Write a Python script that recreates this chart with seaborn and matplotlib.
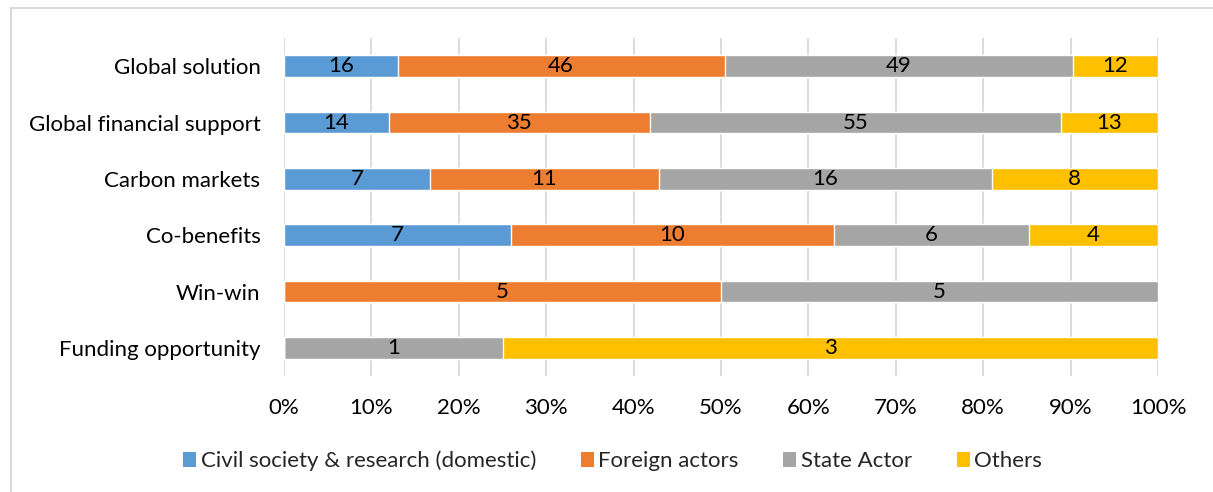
import seaborn as sns
import matplotlib.pyplot as plt
import pandas as pd
from matplotlib.lines import Line2D
from matplotlib.patches import Patch
from matplotlib.ticker import PercentFormatter

categories = ["Global solution", "Global financial support", "Carbon markets",
              "Co-benefits", "Win-win", "Funding opportunity"]
series = ["Civil society & research (domestic)", "Foreign actors", "State Actor", "Others"]
civil = [16, 14, 7, 7, 0, 0]
foreign = [46, 35, 11, 10, 5, 0]
state = [49, 55, 16, 6, 5, 1]
others = [12, 13, 8, 4, 0, 3]
colors = ["#5B9BD5", "#ED7D31", "#A5A5A5", "#FFC000"]

df = pd.DataFrame({"category": categories, series[0]: civil, series[1]: foreign,
                   series[2]: state, series[3]: others})
counts = df[series]
pct = counts.div(counts.sum(axis=1), axis=0)
cum = pct.cumsum(axis=1)

sns.set_style("white")
plt.rcParams["font.family"] = ["Lato", "DejaVu Sans"]

fig = plt.figure(figsize=(12.13, 4.92), dpi=100)
ax = fig.add_axes([284 / 1213, 1 - 376 / 492, 874 / 1213, 338 / 492])

# stacked by overlaying cumulative bars, widest first
for i in range(len(series) - 1, -1, -1):
    plot_df = pd.DataFrame({"category": categories, "w": cum[series[i]]})
    sns.barplot(data=plot_df, x="w", y="category", order=categories, color=colors[i],
                width=0.39, saturation=1, ax=ax, zorder=2)

# segment labels
for r, cat in enumerate(categories):
    start = 0
    for s in series:
        v = counts.loc[r, s]
        p = pct.loc[r, s]
        if v > 0:
            ax.text(start + p / 2, r, str(v), ha="center", va="center",
                    fontsize=16, color="#000000", zorder=3)
        start += p

ax.set_xlim(0, 1)
ax.set_ylim(len(categories) - 0.5, -0.5)
ax.set_xticks([i / 10 for i in range(11)])
ax.xaxis.set_major_formatter(PercentFormatter(1.0, decimals=0))
ax.grid(axis="x", color="#D9D9D9", linewidth=1.3, zorder=0)
ax.set_axisbelow(True)
ax.set_xlabel("")
ax.set_ylabel("")
for sp in ax.spines.values():
    sp.set_visible(False)
ax.tick_params(axis="both", length=0, labelsize=16, colors="#000000")
ax.tick_params(axis="x", pad=16)
ax.tick_params(axis="y", pad=17)

handles = [Patch(facecolor=c, edgecolor="none") for c in colors]
fig.legend(handles, series, loc="center", bbox_to_anchor=(0.505, 1 - 461 / 492), ncol=4,
           frameon=False, fontsize=16, handlelength=0.6, handleheight=0.6,
           handletextpad=0.2, columnspacing=2.0)

# chart frame (left and top edges visible)
fig.add_artist(Line2D([11 / 1213, 11 / 1213], [0, 1 - 8 / 492], color="#D9D9D9",
                      linewidth=1.5, transform=fig.transFigure))
fig.add_artist(Line2D([11 / 1213, 1], [1 - 8 / 492, 1 - 8 / 492], color="#D9D9D9",
                      linewidth=1.5, transform=fig.transFigure))

fig.savefig("out.png", dpi=100)
